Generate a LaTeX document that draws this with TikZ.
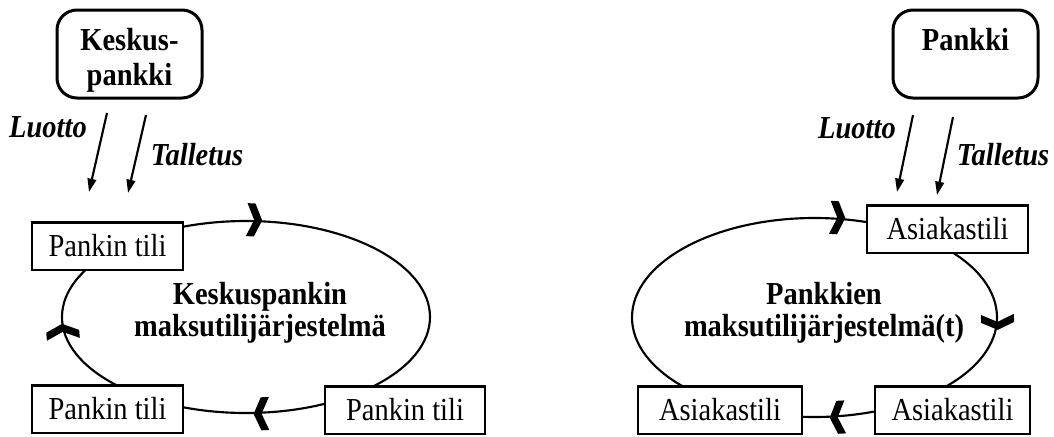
\documentclass[tikz,border=0pt]{standalone}
\usepackage{fontspec}
\setmainfont[FakeStretch=0.89]{Liberation Serif}
\usetikzlibrary{shapes.geometric,arrows.meta}
% tall strut: keeps the bank names a little low in their boxes
\newcommand{\tallstrut}{\rule{0pt}{25.5pt}}
\begin{document}
\begin{tikzpicture}[x=0.75pt,y=-0.75pt,
  every node/.style={font=\fontsize{24}{26.25}\selectfont},
  acct/.style={draw,line width=1.75pt,fill=white,minimum height=35.5pt,inner sep=0pt},
  bank/.style={draw,line width=2.25pt,rounded corners=15pt,minimum width=108.75pt,
    minimum height=66pt,align=center,inner sep=0pt,
    font=\fontsize{24}{26.25}\selectfont\bfseries},
  loop/.style={draw,ellipse,line width=1.6pt,inner sep=0pt},
  flow/.style={line width=1.6pt,-{Triangle[length=10pt,width=6.5pt]}},
  lbl/.style={font=\fontsize{24}{26}\selectfont\bfseries\itshape},
  sys/.style={align=center,font=\fontsize{24}{24}\selectfont\bfseries},
  chev/.pic={\fill (6,0) -- (-1.5,16.5) -- (-9.5,16.5) -- (-2,0) -- (-9.5,-16.5) -- (-1.5,-16.5) -- cycle;}
]
\useasboundingbox (0,0) rectangle (1054,436);

% ---------- central bank payment system ----------
\node[loop,minimum width=276pt,minimum height=144pt] (L) at (246,317) {};
\node[sys] (Ltxt) at (260,313) {Keskuspankin\\maksutilijärjestelmä};

\node[bank] (cb) at (129.5,54) {\tallstrut Keskus-\\pankki};

\node[acct,minimum width=113.25pt] (lt) at (107.5,246) {Pankin tili};
\node[acct,minimum width=113.25pt] (lbl) at (107.5,409) {Pankin tili};
\node[acct,minimum width=120pt] (lbr) at (405,410) {Pankin tili};

\pic[rotate=-3] at (L.84.6) {chev};
\pic[rotate=95] at (L.184.4) {chev};
\pic[rotate=181] at (L.278.1) {chev};

\coordinate (l1a) at (107,113);
\coordinate (l1b) at (89,192);
\coordinate (l2a) at (146,115);
\coordinate (l2b) at (128,193);
\draw[flow] (l1a) -- (l1b);
\draw[flow] (l2a) -- (l2b);
\node[lbl] (lluo) at (48,127) {Luotto};
\node[lbl] (ltal) at (197,155) {Talletus};

% ---------- commercial bank payment systems ----------
\node[loop,minimum width=273.75pt,minimum height=149.25pt] (R) at (814.5,317.5) {};
\node[sys] (Rtxt) at (824,313) {Pankkien\\maksutilijärjestelmä(t)};

\node[bank] (pb) at (965.5,54) {\tallstrut Pankki\\\phantom{p}};

\node[acct,minimum width=120.75pt] (rt) at (947.5,229) {Asiakastili};
\node[acct,minimum width=123pt] (rbl) at (720,410) {Asiakastili};
\node[acct,minimum width=116.25pt] (rbr) at (952.5,410) {Asiakastili};

\pic[rotate=-3] at (R.76.3) {chev};
\pic[rotate=-88] at (R.358.9) {chev};
\pic[rotate=183] at (R.282.2) {chev};

\coordinate (r1a) at (913,115);
\coordinate (r1b) at (897,192);
\coordinate (r2a) at (953,117);
\coordinate (r2b) at (937,195);
\draw[flow] (r1a) -- (r1b);
\draw[flow] (r2a) -- (r2b);
\node[lbl] (rluo) at (857,128) {Luotto};
\node[lbl] (rtal) at (1003,155) {Talletus};
\end{tikzpicture}
\end{document}
